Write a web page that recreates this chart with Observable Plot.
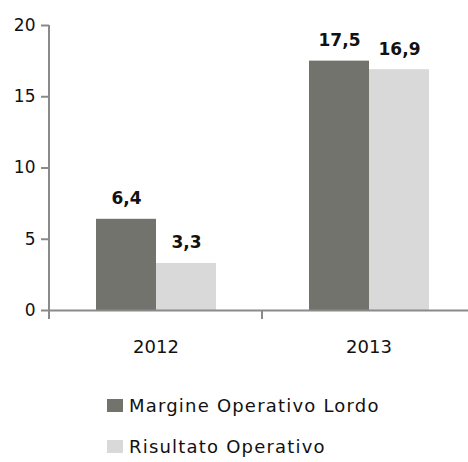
<!DOCTYPE html>
<html>
<head>
<meta charset="utf-8">
<script src="https://cdn.jsdelivr.net/npm/d3@7"></script>
<script src="https://cdn.jsdelivr.net/npm/@observablehq/plot@0.6"></script>
<style>
  html, body { margin: 0; padding: 0; background: #fff; }
  body { width: 468px; height: 462px; overflow: hidden; font-family: "DejaVu Sans", sans-serif; }
  #legend { margin-top: 14px; padding-left: 107px; }
  .row { display: flex; align-items: center; height: 22px; margin-bottom: 19px; font-size: 18px; color: #111; letter-spacing: 1.2px; }
  .sw { width: 16px; height: 13px; margin-right: 6px; flex: none; }
</style>
</head>
<body>
<div id="chart"></div>
<div id="legend"></div>
<script>
const years = ["2012", "2013"];
const series = ["Margine Operativo Lordo", "Risultato Operativo"];
const margine = [6.4, 17.5];
const risultato = [3.3, 16.9];
const labels = [["6,4", "17,5"], ["3,3", "16,9"]];
const colors = ["#73736e", "#d9d9d9"];
const yTicks = [0, 5, 10, 15, 20];

const values = [margine, risultato];
const data = [];
series.forEach((s, si) => years.forEach((y, yi) => data.push({year: y, series: s, value: values[si][yi], label: labels[si][yi]})));

const axisColor = "#8a8a8a";
const plot = Plot.plot({
  width: 468,
  height: 380,
  marginTop: 25,
  marginBottom: 70,
  marginLeft: 48,
  marginRight: -7,
  style: {fontFamily: "DejaVu Sans, sans-serif", fontSize: "17px", color: "#111", background: "#fff"},
  fx: {domain: years, padding: 0, label: null, axis: null},
  x: {domain: series, paddingInner: 0, paddingOuter: 0.75, axis: null},
  y: {domain: [0, 20], axis: null},
  color: {domain: series, range: colors},
  marks: [
    Plot.barY(data, {fx: "year", x: "series", y: "value", fill: "series"}),
    Plot.text(data, {fx: "year", x: "series", y: "value", text: "label", lineAnchor: "bottom", dy: -15, fontWeight: "bold", fontSize: 17, fill: "#111", letterSpacing: "0.5px"}),
    Plot.ruleY([0], {stroke: axisColor, strokeWidth: 2}),
    Plot.axisY(yTicks, {facet: "exclude", label: null, tickSize: 8, tickPadding: 6, stroke: axisColor, strokeWidth: 2, fill: "#111", fontSize: 17}),
    Plot.axisFx({anchor: "bottom", tickSize: 0, tickPadding: 30, fill: "#111", fontSize: 18, label: null, letterSpacing: "1.2px"})
  ]
});
document.getElementById("chart").appendChild(plot);

// axis lines drawn from the plot's own scales
const svg = d3.select(plot);
const ys = plot.scale("y");
const fxs = plot.scale("fx");
const y0 = ys.apply(0), yTop = ys.apply(20);
const left = fxs.apply(years[0]);
const g = svg.append("g").attr("stroke", axisColor).attr("stroke-width", 2);
g.append("line").attr("x1", left).attr("x2", left).attr("y1", yTop).attr("y2", y0 + 9);
years.slice(1).forEach(yr => {
  const xb = fxs.apply(yr);
  g.append("line").attr("x1", xb).attr("x2", xb).attr("y1", y0).attr("y2", y0 + 9);
});

// legend
const leg = document.getElementById("legend");
const cs = plot.scale("color");
series.forEach(s => {
  const row = document.createElement("div");
  row.className = "row";
  const sw = document.createElement("span");
  sw.className = "sw";
  sw.style.background = cs.apply(s);
  const t = document.createElement("span");
  t.textContent = s;
  row.appendChild(sw); row.appendChild(t);
  leg.appendChild(row);
});
</script>
</body>
</html>
